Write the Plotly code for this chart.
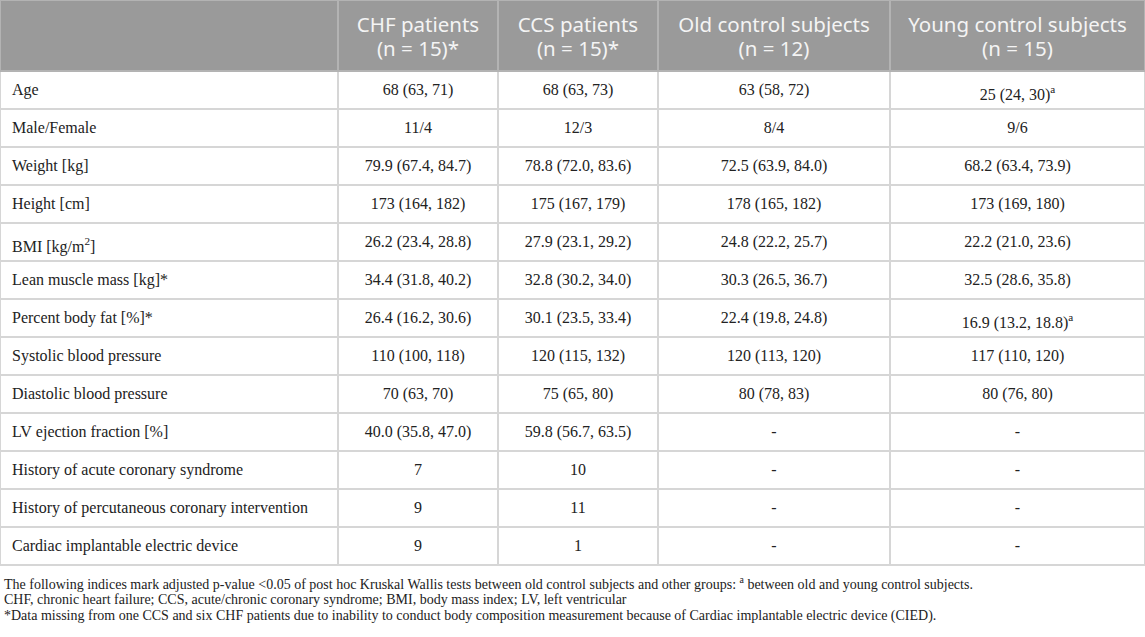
import plotly.graph_objects as go

W, H = 1145, 637

group_names = ["", "CHF patients", "CCS patients", "Old control subjects", "Young control subjects"]
group_sizes = ["", "(n = 15)*", "(n = 15)*", "(n = 12)", "(n = 15)"]

row_labels = ["Age", "Male/Female", "Weight [kg]", "Height [cm]", "BMI [kg/m<sup>2</sup>]",
              "Lean muscle mass [kg]*", "Percent body fat [%]*", "Systolic blood pressure",
              "Diastolic blood pressure", "LV ejection fraction [%]",
              "History of acute coronary syndrome",
              "History of percutaneous coronary intervention",
              "Cardiac implantable electric device"]

chf = ["68 (63, 71)", "11/4", "79.9 (67.4, 84.7)", "173 (164, 182)", "26.2 (23.4, 28.8)",
       "34.4 (31.8, 40.2)", "26.4 (16.2, 30.6)", "110 (100, 118)", "70 (63, 70)",
       "40.0 (35.8, 47.0)", "7", "9", "9"]

ccs = ["68 (63, 73)", "12/3", "78.8 (72.0, 83.6)", "175 (167, 179)", "27.9 (23.1, 29.2)",
       "32.8 (30.2, 34.0)", "30.1 (23.5, 33.4)", "120 (115, 132)", "75 (65, 80)",
       "59.8 (56.7, 63.5)", "10", "11", "1"]

old_ctrl = ["63 (58, 72)", "8/4", "72.5 (63.9, 84.0)", "178 (165, 182)", "24.8 (22.2, 25.7)",
            "30.3 (26.5, 36.7)", "22.4 (19.8, 24.8)", "120 (113, 120)", "80 (78, 83)",
            "-", "-", "-", "-"]

young_ctrl = ["25 (24, 30)<sup>a</sup>", "9/6", "68.2 (63.4, 73.9)", "173 (169, 180)",
              "22.2 (21.0, 23.6)", "32.5 (28.6, 35.8)", "16.9 (13.2, 18.8)<sup>a</sup>",
              "117 (110, 120)", "80 (76, 80)", "-", "-", "-", "-"]

footnotes = [
    "The following indices mark adjusted p-value <0.05 of post hoc Kruskal Wallis tests between "
    "old control subjects and other groups: <sup>a</sup> between old and young control subjects.",
    "CHF, chronic heart failure; CCS, acute/chronic coronary syndrome; BMI, body mass index; "
    "LV, left ventricular",
    "*Data missing from one CCS and six CHF patients due to inability to conduct body composition "
    "measurement because of Cardiac implantable electric device (CIED).",
]

col_widths = [338, 160, 160, 232, 255]
header_h = 71
row_h = 38
n_rows = len(row_labels)
table_h = header_h + row_h * n_rows
CLEAR = "rgba(0,0,0,0)"
NBSP = "\u00a0"

body_font = dict(family="Liberation Serif", size=16, color="#222222")
head_font = dict(family="Noto Sans", size=20.5, color="#f4f4f4")


def domain_y(shift, height):
    # table box in pixels from the top, pushed down by `shift`
    return [1 - (shift + height + 2) / H, 1 - shift / H]


def text_layer(header_vals, cell_vals, shift, height):
    # transparent table that only carries text, so it can sit a little lower
    # than the grid (plotly puts cell text at the top of the cell)
    return go.Table(
        columnwidth=col_widths,
        header=dict(values=header_vals, height=header_h, fill_color=CLEAR,
                    line_color=CLEAR, align="center", font=head_font),
        cells=dict(values=cell_vals, height=row_h, fill_color=CLEAR, line_color=CLEAR,
                   align=["left", "center", "center", "center", "center"], font=body_font),
        domain=dict(x=[0, 1], y=domain_y(shift, height)),
    )


blank_col = [""] * n_rows
grid = go.Table(
    columnwidth=col_widths,
    header=dict(values=[""] * 5, height=header_h, fill_color="#9a9a9a",
                line=dict(color="#b3b3b3", width=2)),
    cells=dict(values=[blank_col] * 5, height=row_h, fill_color="white",
               line=dict(color="#d6d6d6", width=2)),
    domain=dict(x=[0, 1], y=domain_y(0, table_h)),
)

labels = [NBSP + r.replace(" ", NBSP) for r in row_labels]
cell_text = text_layer([""] * 5, [labels, chf, ccs, old_ctrl, young_ctrl], 4, table_h)
head_line1 = text_layer(group_names, [[] for _ in range(5)], 8.5, header_h)
head_line2 = text_layer(group_sizes, [[] for _ in range(5)], 32.5, header_h)

fig = go.Figure([grid, cell_text, head_line1, head_line2])

for i, txt in enumerate(footnotes):
    fig.add_annotation(
        xref="paper", yref="paper", x=2 / W, y=1 - (583 + 16.5 * i) / H,
        xanchor="left", yanchor="middle", showarrow=False, text=txt,
        font=dict(family="Liberation Serif", size=14, color="#222222"),
    )

fig.update_layout(
    width=W, height=H,
    margin=dict(l=0, r=0, t=0, b=0),
    paper_bgcolor="white",
)

fig.write_html("out.html", config={"displayModeBar": False},
               post_script="document.body.style.margin='0';")
